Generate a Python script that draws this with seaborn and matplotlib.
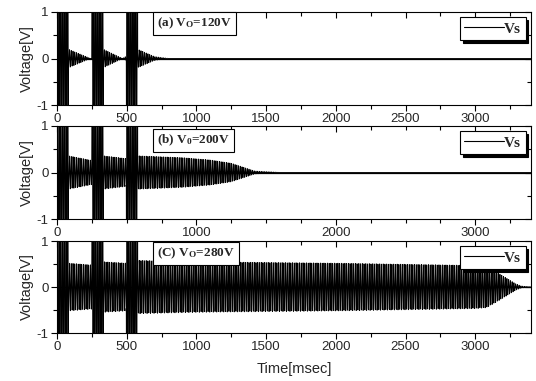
import numpy as np
import pandas as pd
import matplotlib
matplotlib.use("Agg")
import matplotlib.pyplot as plt
from matplotlib.ticker import MultipleLocator
import seaborn as sns

sns.set_theme(style="ticks")
plt.rcParams["font.family"] = ["Liberation Sans", "DejaVu Sans"]
plt.rcParams["axes.unicode_minus"] = False
plt.rcParams["mathtext.fontset"] = "custom"
plt.rcParams["mathtext.rm"] = "Liberation Serif:bold"
plt.rcParams["mathtext.it"] = "Liberation Serif:bold"
plt.rcParams["mathtext.bf"] = "Liberation Serif:bold"

# Time base [msec] and oscillation period of the sensed voltage
t_end = 3400.0
dt = 1.0
period_ms = 12.5

# Start-up bursts (start, end) [msec]; the signal saturates well beyond the axis range
burst_windows = [(0, 82), (250, 332), (498, 578)]
burst_amp = 3.0

# Envelope of the residual oscillation for each supply voltage: knot times [msec], amplitudes [V]
env_t_120 = [82, 240, 332, 470, 578, 700, 800, 3400]
env_a_120 = [0.20, 0.0, 0.20, 0.0, 0.20, 0.04, 0.0, 0.0]

env_t_200 = [82, 250, 332, 498, 578, 900, 1100, 1250, 1350, 1420, 1550, 1600, 3400]
env_a_200 = [0.36, 0.26, 0.36, 0.30, 0.36, 0.32, 0.27, 0.20, 0.10, 0.03, 0.01, 0.0, 0.0]

env_t_280 = [82, 250, 332, 498, 578, 1000, 2000, 3000, 3080, 3150, 3220, 3290, 3330, 3400]
env_a_280 = [0.52, 0.48, 0.55, 0.52, 0.58, 0.55, 0.52, 0.47, 0.45, 0.33, 0.20, 0.07, 0.02, 0.0]

panel_titles = [r"(a) V$_\mathrm{O}$=120V", r"(b) V$_\mathrm{0}$=200V", r"(C) V$_\mathrm{O}$=280V"]
series_label = "Vs"
xtick_major = [500, 1000, 500]

t = np.arange(0.0, t_end + dt, dt)
carrier = np.sin(2 * np.pi * t / period_ms + 0.4)


def build_signal(env_t, env_a):
    env = np.interp(t, env_t, env_a)
    for start, end in burst_windows:
        env[(t >= start) & (t <= end)] = burst_amp
    return env * carrier


signals = [build_signal(env_t_120, env_a_120),
           build_signal(env_t_200, env_a_200),
           build_signal(env_t_280, env_a_280)]

W, H = 536, 381
fig = plt.figure(figsize=(W / 100, H / 100), dpi=100)
left, right = 57, 531
panel_px = [(12, 105), (126, 219), (241, 333)]
title_top_px = [12, 129, 242]

serif_bold = dict(family=["Liberation Serif", "DejaVu Serif"], weight="bold")

for i, (sig, title) in enumerate(zip(signals, panel_titles)):
    top, bot = panel_px[i]
    ax = fig.add_axes([left / W, 1 - bot / H, (right - left) / W, (bot - top) / H])
    ax.patch.set_alpha(0)
    df = pd.DataFrame({"Time": t, "Voltage": sig})
    sns.lineplot(data=df, x="Time", y="Voltage", ax=ax, color="black",
                 linewidth=0.65, estimator=None, sort=False, label=series_label)
    ax.axhline(0, color="black", linewidth=0.9, zorder=3)
    ax.set_xlim(0, t_end)
    ax.set_ylim(-1, 1)
    ax.xaxis.set_major_locator(MultipleLocator(xtick_major[i]))
    ax.xaxis.set_minor_locator(MultipleLocator(250))
    ax.yaxis.set_major_locator(MultipleLocator(1))
    ax.yaxis.set_minor_locator(MultipleLocator(0.5))
    ax.tick_params(axis="both", which="both", direction="out", width=0.8,
                   labelsize=9.5, pad=2, color="black")
    ax.tick_params(axis="both", which="major", length=4)
    ax.tick_params(axis="both", which="minor", length=3)
    ax.tick_params(top=True, right=True, which="both")
    for spine in ax.spines.values():
        spine.set_linewidth(0.8)
        spine.set_color("black")
    ax.set_ylabel("Voltage[V]", fontsize=10.5, labelpad=2)
    ax.set_xlabel("Time[msec]" if i == 2 else "", fontsize=10.5, labelpad=6)
    # mirrored ticks on top/right point inward
    for tl in ax.xaxis.get_ticklines(minor=False)[1::2] + ax.xaxis.get_ticklines(minor=True)[1::2]:
        tl.set_marker(3)
    for tl in ax.yaxis.get_ticklines(minor=False)[1::2] + ax.yaxis.get_ticklines(minor=True)[1::2]:
        tl.set_marker(0)

    leg = ax.legend(loc="upper right", frameon=True, fancybox=False,
                    edgecolor="black", framealpha=1, borderaxespad=0.35,
                    handlelength=2.6, handletextpad=0.0, borderpad=0.3,
                    prop=dict(size=11, **serif_bold),
                    shadow={"color": "black", "alpha": 1})
    leg.set_zorder(6)
    leg.get_frame().set_linewidth(0.8)
    for h in leg.get_lines():
        h.set_linewidth(0.8)

    pad_px = 4
    ax.text((153 + pad_px - left) / (right - left),
            1 - (title_top_px[i] + pad_px - top) / (bot - top),
            title, transform=ax.transAxes, ha="left", va="top",
            fontsize=9.5, zorder=5,
            bbox=dict(boxstyle="square,pad=0.3", fc="white", ec="black", lw=0.8),
            **serif_bold)

fig.savefig("out.png", dpi=100)
